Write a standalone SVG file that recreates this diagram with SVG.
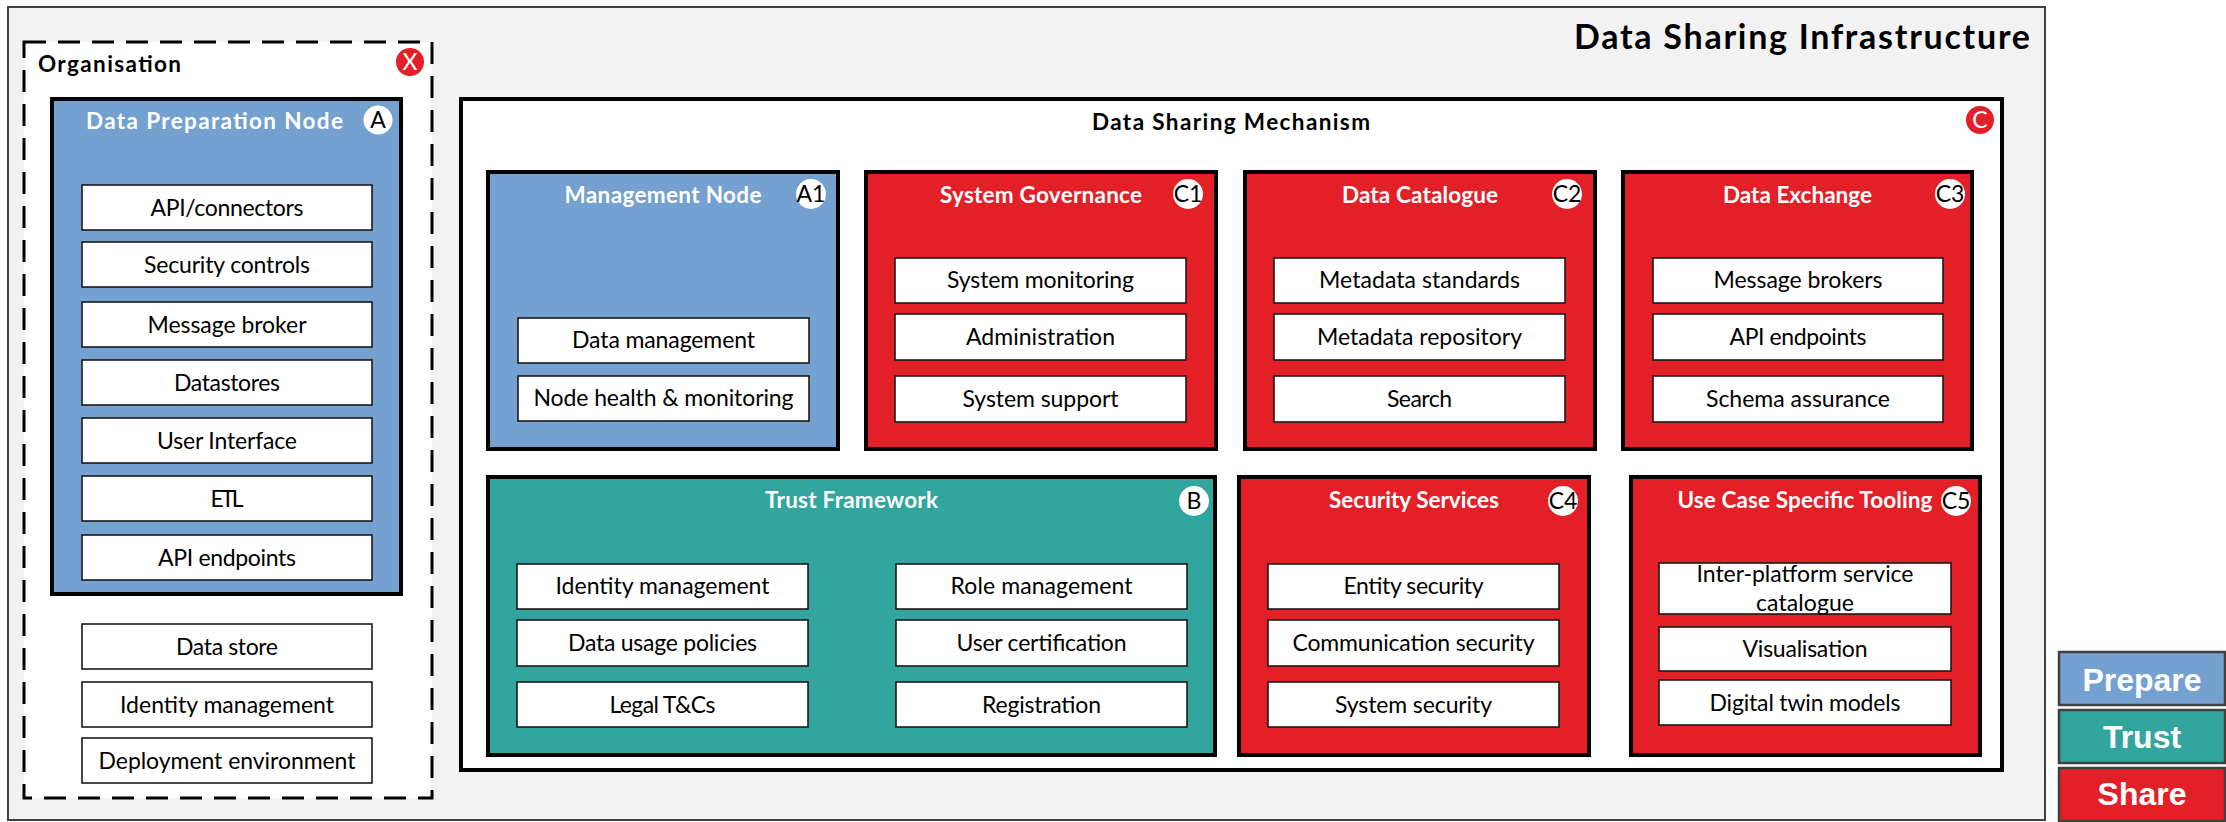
<svg xmlns="http://www.w3.org/2000/svg" width="2226" height="822" viewBox="0 0 2226 822">
<style>
text{font-family:Lato,"Liberation Sans",sans-serif}
.it rect{fill:#fff;stroke:#1a1a1a;stroke-width:1.6}
.it text{font-size:23px;text-anchor:middle;fill:#000}
.nd{stroke:#000;stroke-width:4}
.blue{fill:#74a1cf}.red{fill:#e31f27}.teal{fill:#33a59f}
.ttl{font-size:22.5px;font-weight:bold;fill:#fff;text-anchor:middle}
.bw circle{fill:#fff}
.bw text,.br text{font-size:23px;text-anchor:middle}
.bw text{fill:#000}
.br circle{fill:#e31f27}
.br text{fill:#fff}
.lg rect{stroke:#404040;stroke-width:2.5}
.lg text{font-family:"Liberation Sans",Arial,sans-serif;font-weight:bold;font-size:32px;fill:#fff;text-anchor:middle}
</style>
<rect width="2226" height="822" fill="#fff"/>
<g id="infrastructure">
<rect x="8" y="7" width="2037" height="813" fill="#f2f2f2" stroke="#404040" stroke-width="2"/>
<text x="2030" y="49" font-size="34" font-weight="bold" text-anchor="end" textLength="456">Data Sharing Infrastructure</text>
</g>
<g id="organisation">
<rect x="24" y="42" width="408" height="756" fill="#fff" stroke="#000" stroke-width="3" stroke-dasharray="22 12"/>
<text x="38" y="72" font-size="22.5" font-weight="bold" textLength="143">Organisation</text>
<g class="br"><circle cx="410" cy="62" r="14"/><text x="410" y="70">X</text></g>
</g>
<g id="data-preparation-node">
<rect class="nd blue" x="52" y="99" width="349" height="495"/>
<text class="ttl" x="214.5" y="129" textLength="257">Data Preparation Node</text>
<g class="bw"><circle cx="378" cy="120" r="14.5"/><text x="378" y="128">A</text></g>
<g class="it">
<rect x="82" y="185" width="290" height="45"/><text x="227" y="216" textLength="153">API/connectors</text>
<rect x="82" y="242" width="290" height="45"/><text x="227" y="273" textLength="166">Security controls</text>
<rect x="82" y="302" width="290" height="45"/><text x="227" y="333" textLength="159">Message broker</text>
<rect x="82" y="360" width="290" height="45"/><text x="227" y="391" textLength="106">Datastores</text>
<rect x="82" y="418" width="290" height="45"/><text x="227" y="449" textLength="140">User Interface</text>
<rect x="82" y="476" width="290" height="45"/><text x="227" y="507" textLength="33">ETL</text>
<rect x="82" y="535" width="290" height="45"/><text x="227" y="566" textLength="138">API endpoints</text>
</g>
</g>
<g id="organisation-items" class="it">
<rect x="82" y="624" width="290" height="45"/><text x="227" y="655" textLength="102">Data store</text>
<rect x="82" y="682" width="290" height="45"/><text x="227" y="713" textLength="214">Identity management</text>
<rect x="82" y="738" width="290" height="45"/><text x="227" y="769" textLength="257">Deployment environment</text>
</g>
<g id="data-sharing-mechanism">
<rect x="461" y="99" width="1541" height="671" fill="#fff" stroke="#000" stroke-width="4"/>
<text x="1231" y="130" font-size="22.5" font-weight="bold" text-anchor="middle" textLength="278">Data Sharing Mechanism</text>
<g class="br"><circle cx="1980" cy="120" r="14"/><text x="1980" y="128">C</text></g>
</g>
<g id="management-node">
<rect class="nd blue" x="488" y="172" width="350" height="277"/>
<text class="ttl" x="663" y="203" textLength="197">Management Node</text>
<g class="bw"><circle cx="811" cy="194" r="15"/><text x="811" y="202">A1</text></g>
<g class="it">
<rect x="518" y="318" width="291" height="45"/><text x="663.5" y="348" textLength="183">Data management</text>
<rect x="518" y="376" width="291" height="45"/><text x="663.5" y="406" textLength="260">Node health &amp; monitoring</text>
</g>
</g>
<g id="system-governance">
<rect class="nd red" x="866" y="172" width="350" height="277"/>
<text class="ttl" x="1041" y="203" textLength="202">System Governance</text>
<g class="bw"><circle cx="1188" cy="194" r="15"/><text x="1188" y="202">C1</text></g>
<g class="it">
<rect x="895" y="258" width="291" height="45"/><text x="1040.5" y="288" textLength="187">System monitoring</text>
<rect x="895" y="314" width="291" height="46"/><text x="1040.5" y="345" textLength="149">Administration</text>
<rect x="895" y="376" width="291" height="46"/><text x="1040.5" y="407" textLength="156">System support</text>
</g>
</g>
<g id="data-catalogue">
<rect class="nd red" x="1245" y="172" width="350" height="277"/>
<text class="ttl" x="1420" y="203" textLength="156">Data Catalogue</text>
<g class="bw"><circle cx="1567" cy="194" r="15"/><text x="1567" y="202">C2</text></g>
<g class="it">
<rect x="1274" y="258" width="291" height="45"/><text x="1419.5" y="288" textLength="201">Metadata standards</text>
<rect x="1274" y="314" width="291" height="46"/><text x="1419.5" y="345" textLength="205">Metadata repository</text>
<rect x="1274" y="376" width="291" height="46"/><text x="1419.5" y="407" textLength="65">Search</text>
</g>
</g>
<g id="data-exchange">
<rect class="nd red" x="1623" y="172" width="349" height="277"/>
<text class="ttl" x="1797.5" y="203" textLength="149">Data Exchange</text>
<g class="bw"><circle cx="1950" cy="194" r="15"/><text x="1950" y="202">C3</text></g>
<g class="it">
<rect x="1653" y="258" width="290" height="45"/><text x="1798" y="288" textLength="169">Message brokers</text>
<rect x="1653" y="314" width="290" height="46"/><text x="1798" y="345" textLength="137">API endpoints</text>
<rect x="1653" y="376" width="290" height="46"/><text x="1798" y="407" textLength="184">Schema assurance</text>
</g>
</g>
<g id="trust-framework">
<rect class="nd teal" x="488" y="477" width="727" height="278"/>
<text class="ttl" x="851.5" y="508" textLength="173">Trust Framework</text>
<g class="bw"><circle cx="1194" cy="501" r="15"/><text x="1194" y="509">B</text></g>
<g class="it">
<rect x="517" y="564" width="291" height="45"/><text x="662.5" y="594" textLength="214">Identity management</text>
<rect x="517" y="620" width="291" height="46"/><text x="662.5" y="651" textLength="189">Data usage policies</text>
<rect x="517" y="682" width="291" height="45"/><text x="662.5" y="713" textLength="106">Legal T&amp;Cs</text>
<rect x="896" y="564" width="291" height="45"/><text x="1041.5" y="594" textLength="182">Role management</text>
<rect x="896" y="620" width="291" height="46"/><text x="1041.5" y="651" textLength="170">User certification</text>
<rect x="896" y="682" width="291" height="45"/><text x="1041.5" y="713" textLength="119">Registration</text>
</g>
</g>
<g id="security-services">
<rect class="nd red" x="1239" y="477" width="350" height="278"/>
<text class="ttl" x="1414" y="508" textLength="170">Security Services</text>
<g class="bw"><circle cx="1563" cy="501" r="15"/><text x="1563" y="509">C4</text></g>
<g class="it">
<rect x="1268" y="564" width="291" height="45"/><text x="1413.5" y="594" textLength="140">Entity security</text>
<rect x="1268" y="620" width="291" height="46"/><text x="1413.5" y="651" textLength="242">Communication security</text>
<rect x="1268" y="682" width="291" height="45"/><text x="1413.5" y="713" textLength="157">System security</text>
</g>
</g>
<g id="use-case-specific-tooling">
<rect class="nd red" x="1631" y="477" width="349" height="278"/>
<text class="ttl" x="1805" y="508" textLength="255">Use Case Specific Tooling</text>
<g class="bw"><circle cx="1956" cy="501" r="15"/><text x="1956" y="509">C5</text></g>
<g class="it">
<rect x="1659" y="563" width="292" height="51"/><text x="1805" y="582" textLength="217">Inter-platform service</text><text x="1805" y="611" textLength="98">catalogue</text>
<rect x="1659" y="627" width="292" height="44"/><text x="1805" y="657" textLength="125">Visualisation</text>
<rect x="1659" y="680" width="292" height="45"/><text x="1805" y="711" textLength="191">Digital twin models</text>
</g>
</g>
<g id="legend" class="lg">
<rect class="blue" x="2059" y="652" width="166" height="53"/><text x="2142" y="691">Prepare</text>
<rect class="teal" x="2059" y="710" width="166" height="53"/><text x="2142" y="748">Trust</text>
<rect class="red" x="2059" y="768" width="166" height="53"/><text x="2142" y="805">Share</text>
</g>
<g id="connectors"/>
</svg>
